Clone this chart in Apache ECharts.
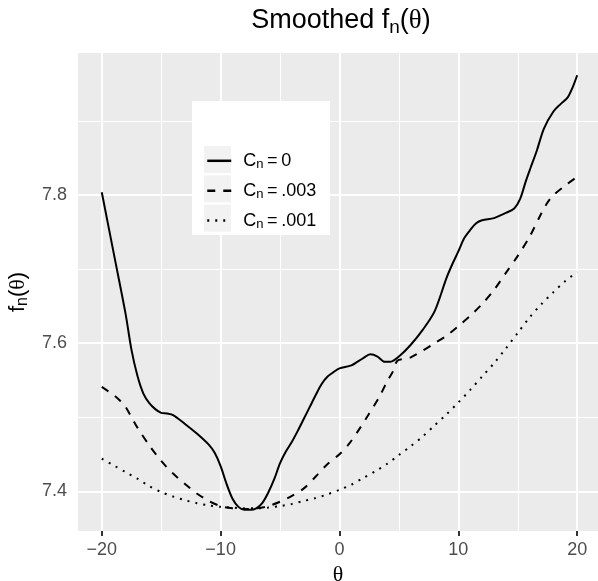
<!DOCTYPE html>
<html>
<head>
<meta charset="utf-8">
<script src="https://cdn.jsdelivr.net/npm/echarts@6/dist/echarts.min.js"></script>
<style>
  html, body { margin: 0; padding: 0; background: #fff; }
  #chart { width: 598px; height: 581px; }
</style>
</head>
<body>
<div id="chart"></div>
<script>
// values
const thetaSolid = [-20, -19, -18, -17.5, -17, -16.5, -16, -15.5, -15, -14.5, -14, -13, -12, -11, -10.5, -10, -9.5, -9, -8.5, -8,
    -7.5, -7, -6.5, -6, -5.5, -5, -4.5, -4, -3.5, -3, -2.5, -2, -1.5, -1, -0.5, 0, 1, 2, 2.6, 3.2,
    3.8, 4.3, 5, 6, 7, 8, 9, 9.5, 10, 10.5, 11, 11.5, 12, 13, 14, 14.7, 15.2, 15.7, 16.1, 16.6,
    17.2, 18, 18.6, 19.2, 19.6, 20];
const fnSolid = [7.804, 7.722, 7.640, 7.591, 7.556, 7.532, 7.519, 7.511, 7.506, 7.505, 7.503, 7.491, 7.478, 7.463, 7.452, 7.434, 7.410, 7.390, 7.379, 7.375,
    7.375, 7.377, 7.384, 7.398, 7.416, 7.438, 7.454, 7.467, 7.482, 7.498, 7.514, 7.530, 7.545, 7.555, 7.561, 7.566, 7.570, 7.580, 7.585, 7.582,
    7.575, 7.575, 7.582, 7.598, 7.618, 7.643, 7.688, 7.707, 7.724, 7.742, 7.753, 7.762, 7.766, 7.769, 7.776, 7.782, 7.795, 7.820, 7.838, 7.860,
    7.890, 7.913, 7.923, 7.932, 7.945, 7.962];

const thetaDash = [-20, -19, -18.5, -18, -17.6, -17, -16, -15, -14, -13, -12, -11, -10, -9, -8, -7, -6, -5, -4, -3,
    -2, -1, 0, 0.8, 1.75, 2.5, 3.3, 4, 4.5, 4.85, 5.5, 6, 7, 8, 9, 10, 11, 12, 13, 14, 15, 16, 17, 17.5, 18, 19, 20];
const fnDash = [7.541, 7.530, 7.523, 7.514, 7.503, 7.486, 7.462, 7.441, 7.424, 7.410, 7.397, 7.387, 7.380, 7.377, 7.376, 7.377, 7.380, 7.386, 7.394, 7.404,
    7.420, 7.437, 7.450, 7.464, 7.486, 7.505, 7.526, 7.548, 7.562, 7.576, 7.579, 7.581, 7.590, 7.600, 7.610, 7.623, 7.637, 7.653, 7.672, 7.695,
    7.718, 7.744, 7.776, 7.790, 7.800, 7.813, 7.825];

const thetaDot = [-20, -19, -18, -17, -16, -15, -14, -13, -12, -11, -10, -9, -8, -7, -6, -5, -4, -3, -2, -1,
    0, 1, 2, 3, 4, 5, 6, 7, 8, 9, 10, 11, 12, 13, 14, 15, 16, 17, 18, 19, 20];
const fnDot = [7.444, 7.435, 7.426, 7.417, 7.407, 7.399, 7.393, 7.388, 7.384, 7.381, 7.379, 7.378, 7.377, 7.377, 7.378, 7.380, 7.383, 7.387, 7.391, 7.396,
    7.402, 7.409, 7.418, 7.427, 7.437, 7.449, 7.461, 7.474, 7.489, 7.504, 7.520, 7.537, 7.555, 7.573, 7.593, 7.614, 7.635, 7.653, 7.669, 7.684, 7.696];

const cnLabels = ['0', '.003', '.001'];
const xTicks = [-20, -10, 0, 10, 20];
const xMinor = [-15, -5, 5, 15];
const yTicks = [7.4, 7.6, 7.8];
const yMinor = [7.5, 7.7, 7.9];

const SANS = '"Liberation Sans", Arial, sans-serif';
const SERIF = '"Liberation Serif", "DejaVu Serif", serif';

const pairs = (xs, ys) => xs.map((x, i) => [x, ys[i]]);
const names = cnLabels.map(c => 'Cn = ' + c);

const chart = echarts.init(document.getElementById('chart'));

const gridLines = [
    ...xMinor.map(v => ({ xAxis: v, lineStyle: { width: 1 } })),
    ...yMinor.map(v => ({ yAxis: v, lineStyle: { width: 1 } })),
    ...xTicks.map(v => ({ xAxis: v, lineStyle: { width: 2 } })),
    ...yTicks.map(v => ({ yAxis: v, lineStyle: { width: 2 } })),
];

function curve(name, data, type) {
    return {
        name, type: 'line', data, z: 3,
        smooth: 0.3, symbol: 'none', silent: true,
        lineStyle: { color: '#000', width: 2, type, cap: 'butt' },
        itemStyle: { color: '#000' },
    };
}

chart.setOption({
    animation: false,
    grid: {
        left: 78, right: 0, top: 53, bottom: 50,
        outerBoundsMode: 'none', containLabel: false,
        show: true, backgroundColor: '#EBEBEB', borderWidth: 0,
    },
    graphic: [
        {
            type: 'text', x: 341, y: 21, z: 10,
            style: {
                text: '{a|Smoothed f}{b|n}{a|(}{t|θ}{a|)}',
                align: 'center', verticalAlign: 'middle',
                rich: {
                    a: { fontSize: 27, lineHeight: 32, fontFamily: SANS, fill: '#000' },
                    t: { fontSize: 27, lineHeight: 32, fontFamily: SERIF, fill: '#000' },
                    b: { fontSize: 19, lineHeight: 19, fontFamily: SANS, fill: '#000', verticalAlign: 'bottom' },
                },
            },
        },
        // legend box + key backgrounds
        { type: 'rect', z: 10, shape: { x: 192, y: 101, width: 138, height: 134 }, style: { fill: '#fff' } },
        { type: 'rect', z: 11, shape: { x: 204, y: 146, width: 27, height: 27 }, style: { fill: '#F2F2F2' } },
        { type: 'rect', z: 11, shape: { x: 204, y: 175.3, width: 27, height: 27 }, style: { fill: '#F2F2F2' } },
        { type: 'rect', z: 11, shape: { x: 204, y: 204.6, width: 27, height: 27 }, style: { fill: '#F2F2F2' } },
    ],
    legend: {
        data: names,
        orient: 'vertical',
        left: 206, top: 150, padding: 0, z: 20,
        itemWidth: 24, itemHeight: 27, itemGap: 8.3,
        selectedMode: false,
        lineStyle: { width: 2.5 },
        itemStyle: { opacity: 0 },
        formatter: (name) => '{p|}{c|C}{s|n}{c|\u2009=\u2009' + cnLabels[names.indexOf(name)] + '}',
        textStyle: {
            rich: {
                p: { width: 7 },
                c: { fontSize: 18, lineHeight: 21, fontFamily: SANS, color: '#000' },
                s: { fontSize: 13, lineHeight: 13, fontFamily: SANS, color: '#000', verticalAlign: 'bottom' },
            },
        },
    },
    xAxis: {
        type: 'value', min: -22, max: 21.75,
        axisLine: { show: false },
        splitLine: { show: false },
        axisTick: { show: true, customValues: xTicks, length: 5, lineStyle: { color: '#333', width: 2 } },
        axisLabel: {
            customValues: xTicks, margin: 10,
            color: '#4D4D4D', fontSize: 18, fontFamily: SANS,
            formatter: (v) => v < 0 ? '\u2212' + (-v) : String(v),
        },
        name: 'θ', nameLocation: 'middle', nameGap: 30,
        nameTextStyle: { fontSize: 22, fontFamily: SERIF, color: '#000' },
    },
    yAxis: {
        type: 'value', min: 7.3464, max: 7.992,
        axisLine: { show: false },
        splitLine: { show: false },
        axisTick: { show: true, customValues: yTicks, length: 5, lineStyle: { color: '#333', width: 2 } },
        axisLabel: {
            customValues: yTicks, margin: 11,
            color: '#4D4D4D', fontSize: 18, fontFamily: SANS,
            formatter: (v) => v.toFixed(1),
        },
        name: '{a|f}{b|n}{a|(}{t|θ}{a|)}', nameLocation: 'middle', nameGap: 44,
        nameTextStyle: {
            rich: {
                a: { fontSize: 22, lineHeight: 26, fontFamily: SANS, color: '#000' },
                t: { fontSize: 22, lineHeight: 26, fontFamily: SERIF, color: '#000' },
                b: { fontSize: 16, lineHeight: 16, fontFamily: SANS, color: '#000', verticalAlign: 'bottom' },
            },
        },
    },
    series: [
        {
            name: 'grid', type: 'line', data: [], z: 1, silent: true,
            markLine: {
                silent: true, z: 1, animation: false,
                symbol: ['none', 'none'],
                label: { show: false },
                emphasis: { disabled: true },
                lineStyle: { color: '#fff', type: 'solid' },
                data: gridLines,
            },
        },
        curve(names[0], pairs(thetaSolid, fnSolid), 'solid'),
        curve(names[1], pairs(thetaDash, fnDash), [8, 8]),
        curve(names[2], pairs(thetaDot, fnDot), [2, 6]),
    ],
});
</script>
</body>
</html>
